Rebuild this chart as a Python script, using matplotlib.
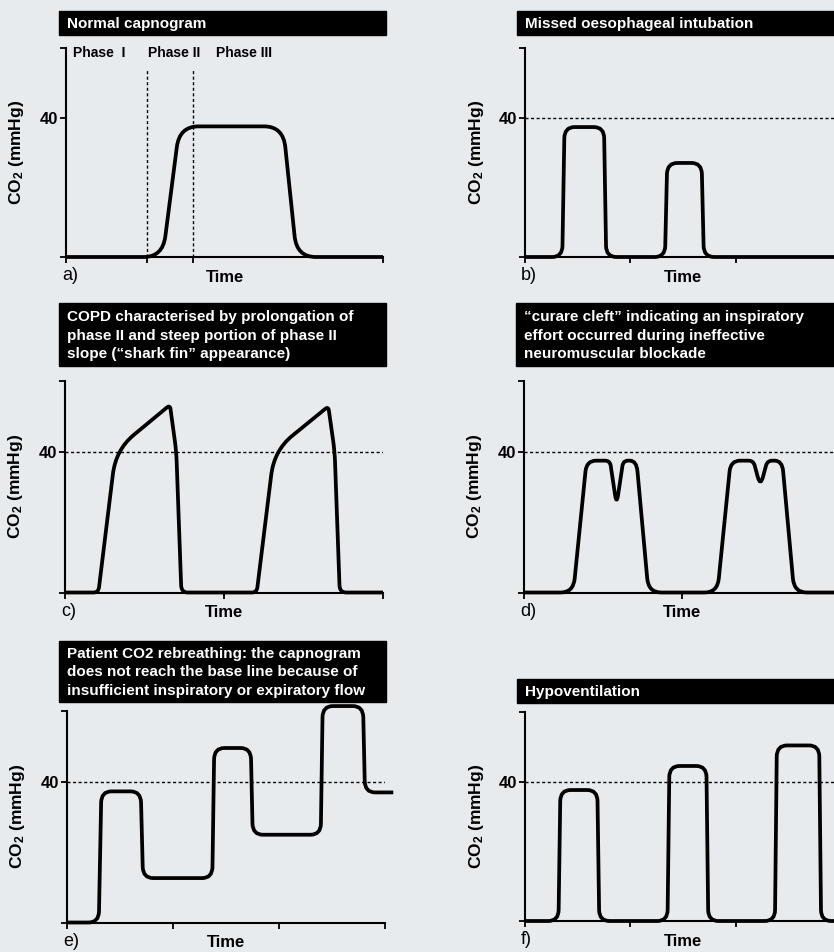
import numpy as np
import matplotlib.pyplot as plt
from matplotlib.path import Path
from matplotlib.patches import PathPatch, Rectangle

plt.rcParams['font.family'] = ['Liberation Sans', 'DejaVu Sans']
plt.rcParams['mathtext.fontset'] = 'custom'
plt.rcParams['mathtext.rm'] = 'Liberation Sans:bold'
plt.rcParams['mathtext.it'] = 'Liberation Sans:bold'
plt.rcParams['mathtext.bf'] = 'Liberation Sans:bold'

# ---- data (time in arbitrary units 0-100, CO2 in mmHg) ----
a_time = [0, 30.5, 35.8, 68.5, 72.8, 100]
a_co2 = [0, 0, 37.5, 37.5, 0, 0]
a_phase_x = [25.6, 40.2]
a_phase_labels = ['Phase  I', 'Phase II', 'Phase III']
a_phase_label_x = [2.2, 26.0, 47.2]

b_time = [0, 11.8, 12.5, 25.0, 25.7, 44.3, 45.0, 55.9, 56.6, 100]
b_co2 = [0, 0, 37.3, 37.3, 0, 0, 27.0, 27.0, 0, 0]

c_time = [0, 10.5, 16.0, 33.0, 35.0, 36.6, 60.3, 65.8, 82.8, 84.8, 86.4, 100]
c_co2 = [0, 0, 40.5, 53.2, 40.0, 0, 0, 40.3, 52.8, 40.0, 0, 0]

d_time = [0, 15.6, 19.8, 27.2, 29.3, 31.4, 35.6, 39.4,
          61.2, 65.4, 72.6, 74.8, 77.0, 81.7, 85.5, 100]
d_co2 = [0, 0, 37.4, 37.4, 24.8, 37.4, 37.4, 0,
         0, 37.4, 37.4, 30.0, 37.4, 37.4, 0, 0]

e_time = [0, 10.0, 10.8, 23.2, 23.9, 45.7, 46.3, 57.8, 58.4, 79.8, 80.4, 93.1, 93.7, 102.6]
e_co2 = [0, 0, 37.2, 37.2, 12.6, 12.6, 49.5, 49.5, 24.9, 24.9, 61.4, 61.4, 36.9, 36.9]

f_time = [0, 10.6, 11.2, 22.9, 23.5, 45.1, 45.7, 57.4, 58.0, 79.1, 79.7, 93.1, 93.7, 100]
f_co2 = [0, 0, 37.6, 37.6, 0, 0, 44.5, 44.5, 0, 0, 50.4, 50.4, 0, 0]

titles = [
    'Normal capnogram',
    'Missed oesophageal intubation',
    'COPD characterised by prolongation of\nphase II and steep portion of phase II\nslope (\u201cshark fin\u201d appearance)',
    '\u201ccurare cleft\u201d indicating an inspiratory\neffort occurred during ineffective\nneuromuscular blockade',
    'Patient CO2 rebreathing: the capnogram\ndoes not reach the base line because of\ninsufficient inspiratory or expiratory flow',
    'Hypoventilation',
]
panel_letters = ['a)', 'b)', 'c)', 'd)', 'e)', 'f)']
ref_level = 40

W, H = 834, 952
BG = '#e7ebee'


def rounded_curve(ax, xs, ys, radii):
    # polyline with rounded corners (quadratic bezier at every vertex)
    pts = np.column_stack([xs, ys]).astype(float)
    verts = [pts[0]]
    codes = [Path.MOVETO]
    for i in range(1, len(pts) - 1):
        p0, p1, p2 = pts[i - 1], pts[i], pts[i + 1]
        d1 = p1 - p0
        d2 = p2 - p1
        l1 = np.hypot(*d1)
        l2 = np.hypot(*d2)
        r = radii[i] if np.ndim(radii) else radii
        r1 = min(r, l1 / 2)
        r2 = min(r, l2 / 2)
        verts += [p1 - d1 / l1 * r1, p1, p1 + d2 / l2 * r2]
        codes += [Path.LINETO, Path.CURVE3, Path.CURVE3]
    verts.append(pts[-1])
    codes.append(Path.LINETO)
    ax.add_patch(PathPatch(Path(verts, codes), fill=False, lw=2.7, ec='black',
                           joinstyle='round', capstyle='butt', zorder=3,
                           clip_on=False))


def px_axes(fig, left, top, right, bottom):
    return fig.add_axes([left / W, 1 - bottom / H, (right - left) / W, (bottom - top) / H])


def title_box(fig, x0, y0, x1, y1, text):
    fig.add_artist(Rectangle((x0 / W, 1 - y1 / H), (x1 - x0) / W, (y1 - y0) / H,
                             transform=fig.transFigure, color='black', zorder=1))
    fig.text((x0 + 8) / W, 1 - ((y0 + y1) / 2 + 1) / H, text, color='white',
             fontweight='bold', fontsize=11, ha='left', va='center',
             linespacing=1.37, zorder=2)


fig = plt.figure(figsize=(W / 100, H / 100), dpi=100, facecolor=BG)

# axes frames in pixel coords (left, top, right, bottom)
frames = [(66, 48, 383, 257), (525, 48, 841, 257),
          (65, 381, 383, 592.5), (524, 381, 840, 592.5),
          (67, 711, 385, 922.5), (525, 712, 841, 921)]
boxes = [(59, 11, 386, 35), (517, 11, 845, 35),
         (59, 303, 386, 366), (516, 303, 845, 366),
         (59, 641, 386, 702), (517, 679, 845, 703)]
xticks = [[0, 25.6, 40.2, 100], [0, 33.3, 66.7, 100],
          [0, 50, 100], [0, 50, 100],
          [0, 33.3, 66.7, 100], [0, 33.3, 66.7, 100]]
curves = [(a_time, a_co2), (b_time, b_co2), (c_time, c_co2),
          (d_time, d_co2), (e_time, e_co2), (f_time, f_co2)]
radii = [6.0, 3.2,
         [0, 1.5, 7.0, 1.2, 3.0, 2.0, 1.5, 7.0, 1.2, 3.0, 2.0, 0],
         [0, 4, 3, 1.5, 3, 1.5, 3, 4, 4, 3, 1.5, 3, 1.5, 3, 4, 0],
         3.2, 3.2]
hline = [False, True, True, True, True, True]

dash = (0, (2.2, 1.8))

for i, fr in enumerate(frames):
    ax = px_axes(fig, *fr)
    ax.set_facecolor('none')
    ax.set_xlim(0, 100)
    ax.set_ylim(0, 60)
    for s in ['top', 'right']:
        ax.spines[s].set_visible(False)
    for s in ['left', 'bottom']:
        ax.spines[s].set_linewidth(1.5)
    ax.set_yticks([0, 40, 60], ['', '40', ''])
    ax.set_xticks(xticks[i], [])
    ax.tick_params(direction='out', length=4.5, width=1.3, labelsize=12, pad=1)
    for lab in ax.get_yticklabels():
        lab.set_fontweight('bold')

    if hline[i]:
        ax.axhline(ref_level, color='black', lw=1.0, linestyle=dash, zorder=2)

    rounded_curve(ax, curves[i][0], curves[i][1], radii[i])

    ax.set_ylabel('CO$_2$ (mmHg)', fontsize=12.5, fontweight='bold')
    ax.yaxis.set_label_coords(-0.125, 0.5)
    ax.text(0.5, -0.06, 'Time', transform=ax.transAxes, ha='center', va='top',
            fontsize=12, fontweight='bold')
    ax.text(-0.012, -0.088, panel_letters[i], transform=ax.transAxes,
            ha='left', va='center', fontsize=13)

    title_box(fig, *boxes[i], titles[i])

    if i == 0:
        ax.vlines(a_phase_x, 0, 54, colors='black', lw=1.0, linestyles=[dash], zorder=2)
        for lx, lt in zip(a_phase_label_x, a_phase_labels):
            ax.text(lx, 58.6, lt, ha='left', va='center', fontsize=10, fontweight='bold')

fig.savefig('out.png', dpi=100, facecolor=BG)
